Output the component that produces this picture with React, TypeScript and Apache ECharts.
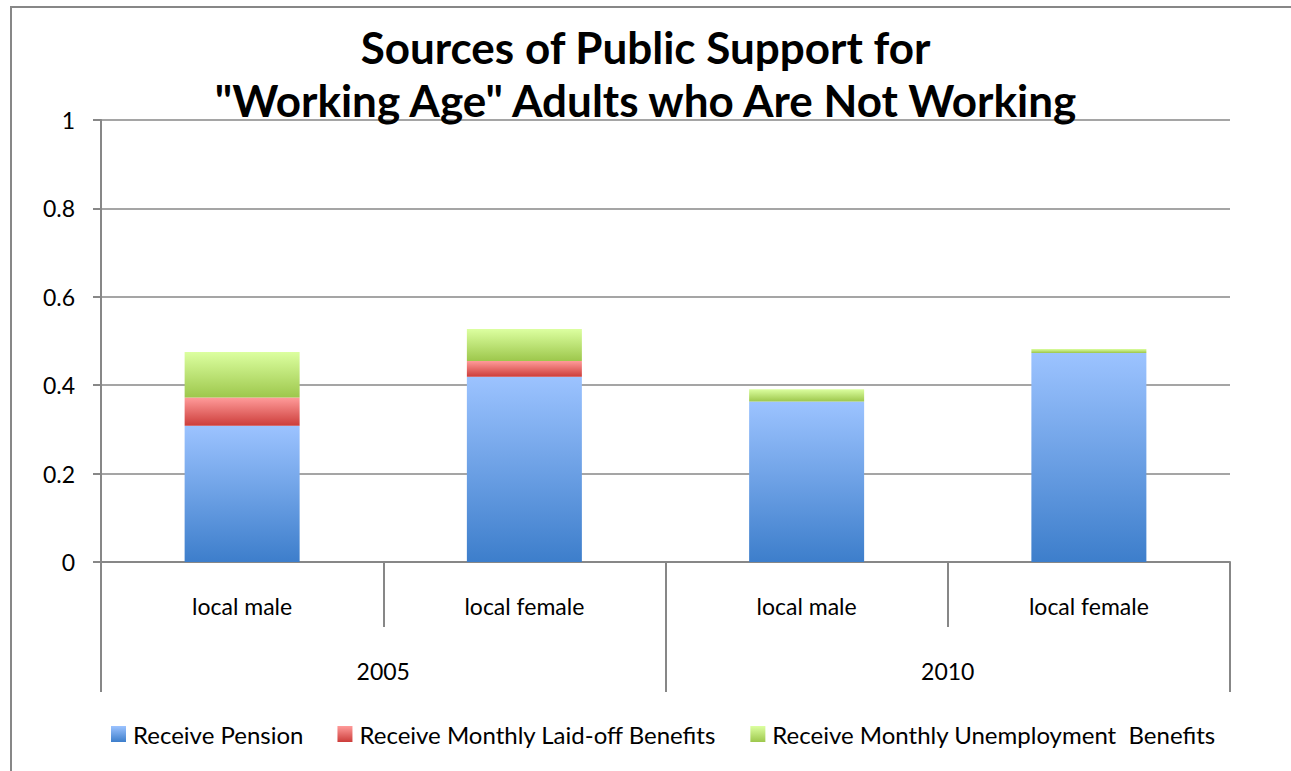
import React, { useEffect, useRef } from "react";
import * as echarts from "echarts";

const categories = ["local male", "local female", "local male", "local female"];
const years = ["2005", "2010"];
const pension = [0.308, 0.419, 0.363, 0.473];
const laidOff = [0.064, 0.036, 0, 0];
const unemployment = [0.103, 0.072, 0.028, 0.009];
const yTicks = { min: 0, max: 1, interval: 0.2 };

const FONT = "Lato";
const GRAY = "#878787";

const grad = (top: string, bottom: string) =>
  new echarts.graphic.LinearGradient(0, 0, 0, 1, [
    { offset: 0, color: top },
    { offset: 1, color: bottom },
  ]);

export default function App() {
  const ref = useRef<HTMLDivElement>(null);
  useEffect(() => {
    if (!ref.current) return;
    const chart = echarts.init(ref.current, null, { renderer: "svg" });
    const mk = (name: string, data: number[], top: string, bottom: string) => ({
      name,
      type: "bar",
      stack: "total",
      data,
      barWidth: 115,
      itemStyle: { color: grad(top, bottom) },
    });
    chart.setOption({
      animation: false,
      backgroundColor: "#ffffff",
      textStyle: { fontFamily: FONT },
      title: {
        text: 'Sources of Public Support for\n"Working Age" Adults who Are Not Working',
        left: "center",
        top: 15,
        textStyle: {
          fontFamily: FONT,
          fontSize: 44,
          fontWeight: "bold",
          color: "#000",
          lineHeight: 53,
        },
      },
      graphic: [
        {
          type: "rect",
          shape: { x: 11, y: 7, width: 1320, height: 820 },
          style: { fill: "none", stroke: GRAY, lineWidth: 2 },
          silent: true,
          z: -10,
        },
      ],
      legend: {
        left: 106,
        top: 717,
        itemWidth: 15,
        itemHeight: 16,
        itemGap: 34,
        icon: "rect",
        textStyle: { fontFamily: FONT, fontSize: 24, color: "#000", padding: [0, 0, 0, 2] },
      },
      grid: { left: 101, right: 61, top: 120, bottom: 209 },
      xAxis: [
        {
          type: "category",
          data: categories,
          axisLine: { lineStyle: { color: GRAY, width: 2 } },
          axisTick: { show: true, interval: 0, length: 65, lineStyle: { color: GRAY, width: 2 } },
          axisLabel: { interval: 0, margin: 32, fontFamily: FONT, fontSize: 23, color: "#000" },
        },
        {
          type: "category",
          data: years,
          position: "bottom",
          offset: 65,
          axisLine: { show: false },
          axisTick: { show: true, interval: 0, length: 65, lineStyle: { color: GRAY, width: 2 } },
          axisLabel: { interval: 0, margin: 32, fontFamily: FONT, fontSize: 23, color: "#000" },
        },
      ],
      yAxis: {
        type: "value",
        min: yTicks.min,
        max: yTicks.max,
        interval: yTicks.interval,
        axisLine: { show: true, lineStyle: { color: GRAY, width: 2 } },
        axisTick: { show: true, length: 8, lineStyle: { color: GRAY, width: 2 } },
        axisLabel: { margin: 26, fontFamily: FONT, fontSize: 23, color: "#000" },
        splitLine: { lineStyle: { color: GRAY, width: 1.5 } },
      },
      series: [
        mk("Receive Pension", pension, "#9cc3ff", "#3d7ecb"),
        mk("Receive Monthly Laid-off Benefits", laidOff, "#ff9b9a", "#cc3d3a"),
        mk("Receive Monthly Unemployment  Benefits", unemployment, "#dcffa0", "#9dc74c"),
      ],
    });
    return () => chart.dispose();
  }, []);
  return (
    <div
      ref={ref}
      style={{ position: "fixed", left: 0, top: 0, width: 1291, height: 771 }}
    />
  );
}
